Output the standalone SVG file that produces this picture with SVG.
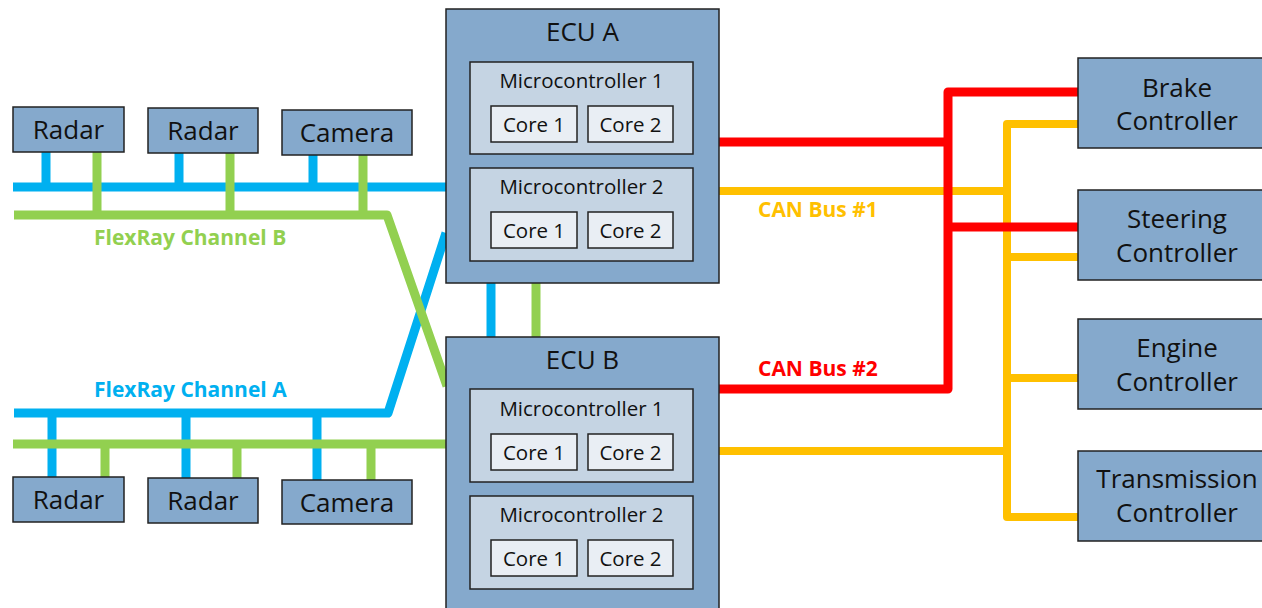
<svg xmlns="http://www.w3.org/2000/svg" width="1262" height="608" viewBox="0 0 1262 608">
  <style>
    .box { fill: #85A9CC; stroke: #222; stroke-width: 1.5; }
    .mcu { fill: #C5D4E3; stroke: #222; stroke-width: 1.5; }
    .core { fill: #E9EEF4; stroke: #222; stroke-width: 1.5; }
    text { font-family: "Open Sans", "Noto Sans", sans-serif; fill: #111; text-anchor: middle; }
    .t24 { font-size: 26px; }
    .t26 { font-size: 26px; }
    .t18 { font-size: 20.5px; }
    .lbl { font-size: 21px; font-weight: bold; text-anchor: start; }
    .bus { fill: none; stroke-width: 9; stroke-linejoin: round; stroke-linecap: butt; }
    .blue { stroke: #00B0F0; }
    .green { stroke: #92D050; }
    .red { stroke: #FF0000; }
    .yellow { stroke: #FFC000; stroke-width: 8; }
  </style>

  <!-- bus wiring -->
  <g id="connectors">
    <!-- FlexRay Channel A (blue) -->
    <path class="bus blue" d="M13,187 H446"/>
    <path class="bus blue" d="M46,152 V187 M179,153 V187 M313,155 V187"/>
    <path class="bus blue" d="M14,413 H388 L446,233"/>
    <path class="bus blue" d="M52,413 V477 M186,413 V478 M317,413 V480"/>
    <path class="bus blue" d="M491,283 V337"/>
    <!-- FlexRay Channel B (green) -->
    <path class="bus green" d="M14,215 H387 L447,386"/>
    <path class="bus green" d="M97,152 V215 M230,153 V215 M363,155 V215"/>
    <path class="bus green" d="M13,444 H446"/>
    <path class="bus green" d="M105,444 V477 M237,444 V478 M371,444 V480"/>
    <path class="bus green" d="M536,283 V337"/>
    <!-- CAN Bus #1 (yellow) -->
    <path class="bus yellow" d="M719,191 H1007"/>
    <path class="bus yellow" d="M1078,124 H1007 V517 H1078"/>
    <path class="bus yellow" d="M1007,257 H1078 M1007,378 H1078"/>
    <path class="bus yellow" d="M719,451 H1007"/>
    <!-- CAN Bus #2 (red) -->
    <path class="bus red" d="M719,142 H948"/>
    <path class="bus red" d="M1078,92 H948 V389 H719"/>
    <path class="bus red" d="M948,227 H1078"/>
  </g>

  <!-- bus labels -->
  <text class="lbl" x="94" y="245" style="fill:#92D050">FlexRay Channel B</text>
  <text class="lbl" x="94" y="397" style="fill:#00B0F0">FlexRay Channel A</text>
  <text class="lbl" x="758" y="217" style="fill:#FFC000">CAN Bus #1</text>
  <text class="lbl" x="758" y="376" style="fill:#FF0000">CAN Bus #2</text>

  <!-- sensors, upper row -->
  <g id="radar-top-1"><rect class="box" x="13" y="107" width="111" height="45"/><text class="t24" x="68.5" y="139">Radar</text></g>
  <g id="radar-top-2"><rect class="box" x="148" y="108" width="110" height="45"/><text class="t24" x="203" y="140">Radar</text></g>
  <g id="camera-top"><rect class="box" x="282" y="110" width="130" height="45"/><text class="t24" x="347" y="142">Camera</text></g>

  <!-- sensors, lower row -->
  <g id="radar-bottom-1"><rect class="box" x="13" y="477" width="111" height="45"/><text class="t24" x="68.5" y="509">Radar</text></g>
  <g id="radar-bottom-2"><rect class="box" x="148" y="478" width="110" height="45"/><text class="t24" x="203" y="510">Radar</text></g>
  <g id="camera-bottom"><rect class="box" x="282" y="480" width="130" height="44"/><text class="t24" x="347" y="512">Camera</text></g>

  <!-- ECU A -->
  <g id="ecu-a">
    <rect class="box" x="446" y="9" width="273" height="274"/>
    <text class="t26" x="582.5" y="41">ECU A</text>
    <rect class="mcu" x="470" y="62" width="223" height="92"/>
    <text class="t18" x="581.5" y="88">Microcontroller 1</text>
    <rect class="core" x="491" y="106" width="86" height="36"/>
    <text class="t18" x="534" y="132">Core 1</text>
    <rect class="core" x="588" y="106" width="85" height="36"/>
    <text class="t18" x="630.5" y="132">Core 2</text>
    <rect class="mcu" x="470" y="168" width="223" height="93"/>
    <text class="t18" x="581.5" y="194">Microcontroller 2</text>
    <rect class="core" x="491" y="212" width="86" height="36"/>
    <text class="t18" x="534" y="238">Core 1</text>
    <rect class="core" x="588" y="212" width="85" height="36"/>
    <text class="t18" x="630.5" y="238">Core 2</text>
  </g>

  <!-- ECU B -->
  <g id="ecu-b">
    <rect class="box" x="446" y="337" width="273" height="280"/>
    <text class="t26" x="582.5" y="369">ECU B</text>
    <rect class="mcu" x="470" y="389" width="223" height="93"/>
    <text class="t18" x="581.5" y="416">Microcontroller 1</text>
    <rect class="core" x="491" y="434" width="86" height="36"/>
    <text class="t18" x="534" y="460">Core 1</text>
    <rect class="core" x="588" y="434" width="85" height="36"/>
    <text class="t18" x="630.5" y="460">Core 2</text>
    <rect class="mcu" x="470" y="496" width="223" height="93"/>
    <text class="t18" x="581.5" y="522">Microcontroller 2</text>
    <rect class="core" x="491" y="540" width="86" height="36"/>
    <text class="t18" x="534" y="566">Core 1</text>
    <rect class="core" x="588" y="540" width="85" height="36"/>
    <text class="t18" x="630.5" y="566">Core 2</text>
  </g>

  <!-- actuator controllers -->
  <g id="brake-controller"><rect class="box" x="1078" y="58" width="188" height="90"/><text class="t24" x="1177" y="97">Brake</text><text class="t24" x="1177" y="130">Controller</text></g>
  <g id="steering-controller"><rect class="box" x="1078" y="190" width="188" height="90"/><text class="t24" x="1177" y="228">Steering</text><text class="t24" x="1177" y="262">Controller</text></g>
  <g id="engine-controller"><rect class="box" x="1078" y="319" width="188" height="90"/><text class="t24" x="1177" y="357">Engine</text><text class="t24" x="1177" y="391">Controller</text></g>
  <g id="transmission-controller"><rect class="box" x="1078" y="451" width="188" height="90"/><text class="t24" x="1177" y="488">Transmission</text><text class="t24" x="1177" y="522">Controller</text></g>
</svg>
